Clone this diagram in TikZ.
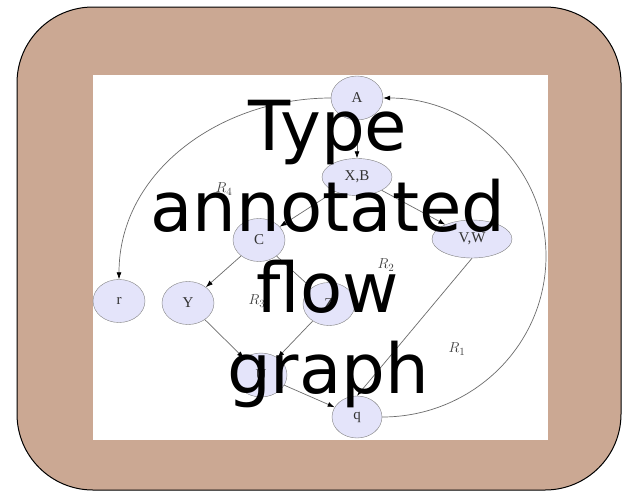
\documentclass[tikz,border=0pt]{standalone}
\usepackage{fontspec}
\newfontfamily\bigsans{DejaVu Sans}
\newfontfamily\timesfont{Liberation Serif}
\usepackage{tikz}
\usetikzlibrary{shapes.geometric,arrows.meta}
\definecolor{framebrown}{RGB}{203,168,147}
\definecolor{vertexfill}{RGB}{228,228,250}

\begin{document}
\begin{tikzpicture}[x=1pt,y=1pt,
    vertex/.style={ellipse,draw=gray,fill=vertexfill,inner sep=0pt,
        minimum width=52pt,minimum height=43pt,
        font=\timesfont\fontsize{15}{17}\selectfont,text=black!80},
    flow/.style={draw=gray!85!black,line width=0.7pt,-{Latex[length=7pt,width=5pt,fill=black,color=black]}},
    rlabel/.style={text=black!75,font=\fontsize{15}{17}\selectfont}]
    \useasboundingbox (0,0) rectangle (624,-491);

    % frame
    \draw[line width=1pt,fill=framebrown,rounded corners=76pt] (17,-7) rectangle (621,-490);
    \fill[white] (93,-75) rectangle (548,-440);

    % vertices
    \node[vertex,minimum height=44pt] (A) at (357,-98) {A};
    \node[vertex,minimum width=70pt,minimum height=37pt] (XB) at (357,-177) {X,B};
    \node[vertex,minimum width=80pt,minimum height=38pt] (VW) at (472,-239) {V,W};
    \node[vertex] (C) at (259,-240) {C};
    \node[vertex] (r) at (119,-301) {r};
    \node[vertex] (Y) at (188,-303) {Y};
    \node[vertex] (Z) at (329,-304) {Z};
    \node[vertex,minimum height=44pt] (U) at (261,-375) {U};
    \node[vertex,minimum width=50pt,minimum height=42pt] (q) at (357,-417) {q};
    \coordinate (bend) at (546,-256);

    % edges
    \draw[flow] (A) -- (XB);
    \draw[flow] (XB) -- (C);
    \draw[flow] (XB) -- (VW);
    \foreach \from/\to in {C/Y,C/Z,Y/U,Z/U,U/q}
        \draw[flow] (\from) -- (\to);
    \draw[flow] (VW.south) -- (q.north);
    \draw[flow] (q.east) to[out=0,in=-90] (bend) to[out=90,in=0] (A.east);
    \draw[flow] (A.west) to[out=180,in=90] (r.north);

    % regions
    \node[rlabel] at (224,-189) {$R_4$};
    \node[rlabel] at (386,-265) {$R_2$};
    \node[rlabel] at (257,-301) {$R_3$};
    \node[rlabel] at (457,-349) {$R_1$};

    % title
    \node[anchor=base,align=center,font=\bigsans\fontsize{69}{81}\selectfont]
        (title) at (328,-393) {Type\\annotated\\flow\\graph};
\end{tikzpicture}
\end{document}
